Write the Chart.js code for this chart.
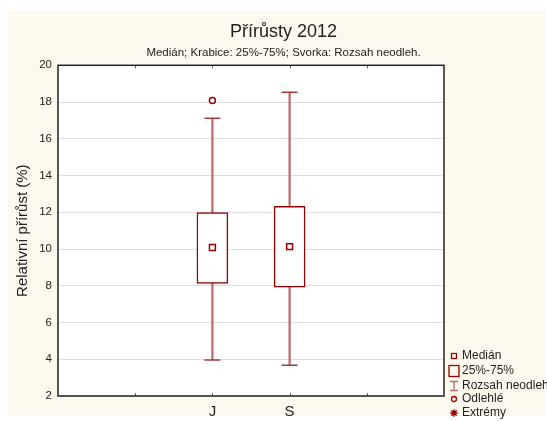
<!DOCTYPE html>
<html>
<head>
<meta charset="utf-8">
<script src="https://cdn.jsdelivr.net/npm/chart.js@4.4.0/dist/chart.umd.min.js"></script>
<style>
  html, body { margin: 0; padding: 0; background: #fff; }
</style>
</head>
<body>
<canvas id="boxChart" width="547" height="421"></canvas>
<script>
// Data
const categories = ['J', 'S'];
const catPos = [2, 3];
const whiskerLow = [3.96, 3.67];
const q1 = [8.13, 7.93];
const medians = [10.08, 10.13];
const q3 = [11.98, 12.33];
const whiskerHigh = [17.12, 18.53];
const outliers = [[18.08], []];
const yTicks = [2, 4, 6, 8, 10, 12, 14, 16, 18, 20];
const xMarks = [1, 2, 3, 4];
const legendItems = ['Medián', '25%-75%', 'Rozsah neodleh', 'Odlehlé', 'Extrémy'];

const dark = '#990000';
const stem = '#bd6b6b';
const fontFam = '"Liberation Sans", Arial, sans-serif';

// Cream backdrop, frame, inner tick marks and the legend
const decor = {
  id: 'decor',
  beforeDraw(chart) {
    const ctx = chart.ctx;
    ctx.save();
    ctx.fillStyle = '#fdf9ee';
    ctx.fillRect(8, 10, 538, 406);
    const a = chart.chartArea;
    ctx.fillStyle = '#fff';
    ctx.fillRect(a.left, a.top, a.right - a.left, a.bottom - a.top);
    ctx.restore();
  },
  afterDatasetsDraw(chart) {
    const ctx = chart.ctx;
    const a = chart.chartArea;
    const x = chart.scales.x;
    ctx.save();
    ctx.strokeStyle = '#666';
    ctx.lineWidth = 1;
    xMarks.forEach(v => {
      const px = Math.round(x.getPixelForValue(v)) + 0.5;
      ctx.beginPath();
      ctx.moveTo(px, a.top); ctx.lineTo(px, a.top + 3);
      ctx.moveTo(px, a.bottom); ctx.lineTo(px, a.bottom - 3);
      ctx.stroke();
    });
    ctx.strokeStyle = '#222';
    ctx.lineWidth = 1.5;
    ctx.strokeRect(a.left, a.top, a.right - a.left, a.bottom - a.top);

    // legend
    const lx = 454;
    const ys = [356, 371, 386, 399, 413];
    ctx.lineWidth = 1.3;
    ctx.strokeStyle = dark;
    ctx.strokeRect(lx - 2.5, ys[0] - 2.5, 5, 5);
    ctx.strokeRect(lx - 5, ys[1] - 5.5, 10, 11);
    ctx.strokeStyle = stem;
    ctx.beginPath();
    ctx.moveTo(lx, ys[2] - 4.5); ctx.lineTo(lx, ys[2] + 4.5);
    ctx.moveTo(lx - 4, ys[2] - 4.5); ctx.lineTo(lx + 4, ys[2] - 4.5);
    ctx.moveTo(lx - 4, ys[2] + 4.5); ctx.lineTo(lx + 4, ys[2] + 4.5);
    ctx.stroke();
    ctx.strokeStyle = dark;
    ctx.beginPath();
    ctx.arc(lx, ys[3], 2.5, 0, Math.PI * 2);
    ctx.stroke();
    ctx.lineWidth = 1.4;
    ctx.beginPath();
    for (let k = 0; k < 4; k++) {
      const ang = k * Math.PI / 4;
      ctx.moveTo(lx - 3.8 * Math.cos(ang), ys[4] - 3.8 * Math.sin(ang));
      ctx.lineTo(lx + 3.8 * Math.cos(ang), ys[4] + 3.8 * Math.sin(ang));
    }
    ctx.stroke();
    ctx.fillStyle = '#222';
    ctx.font = '12px ' + fontFam;
    ctx.textBaseline = 'middle';
    ctx.textAlign = 'left';
    legendItems.forEach((t, i) => ctx.fillText(t, 462, ys[i]));
    ctx.restore();
  }
};

new Chart(document.getElementById('boxChart'), {
  type: 'bar',
  data: {
    datasets: [
      {
        label: 'Rozsah',
        data: catPos.map((x, i) => ({ x: x, y: [whiskerLow[i], whiskerHigh[i]] })),
        backgroundColor: stem,
        borderWidth: 0,
        barThickness: 1.6,
        grouped: false,
        order: 4
      },
      {
        label: '25%-75%',
        data: catPos.map((x, i) => ({ x: x, y: [q1[i], q3[i]] })),
        backgroundColor: '#fff',
        borderColor: dark,
        borderWidth: 1.5,
        borderSkipped: false,
        barThickness: 31,
        grouped: false,
        order: 3
      },
      {
        type: 'scatter',
        label: 'Svorka',
        data: catPos.map((x, i) => ({ x: x, y: whiskerLow[i] }))
          .concat(catPos.map((x, i) => ({ x: x, y: whiskerHigh[i] }))),
        pointStyle: 'line',
        radius: 8,
        borderColor: '#a33a3a',
        borderWidth: 1.5,
        order: 2
      },
      {
        type: 'scatter',
        label: 'Medián',
        data: catPos.map((x, i) => ({ x: x, y: medians[i] })),
        pointStyle: 'rect',
        radius: 4.2,
        backgroundColor: '#fff',
        borderColor: dark,
        borderWidth: 1.5,
        order: 1
      },
      {
        type: 'scatter',
        label: 'Odlehlé',
        data: catPos.flatMap((x, i) => outliers[i].map(v => ({ x: x, y: v }))),
        pointStyle: 'circle',
        radius: 3,
        backgroundColor: '#fff',
        borderColor: dark,
        borderWidth: 1.5,
        order: 1
      }
    ]
  },
  options: {
    responsive: false,
    animation: false,
    layout: { padding: { left: 20, top: 10, right: 0, bottom: 0 } },
    plugins: {
      legend: { display: false },
      tooltip: { enabled: false },
      title: {
        display: true,
        text: 'Přírůsty 2012',
        color: '#222',
        font: { family: fontFam, size: 18, weight: 'normal' },
        padding: { top: 11, bottom: 0 }
      },
      subtitle: {
        display: true,
        text: 'Medián; Krabice: 25%-75%; Svorka: Rozsah neodleh.',
        color: '#222',
        font: { family: fontFam, size: 11.5 },
        padding: { top: 3.8, bottom: 5.1 }
      }
    },
    scales: {
      x: {
        type: 'linear',
        min: 0,
        max: 5,
        offset: false,
        grid: { display: false, offset: false, drawTicks: false, tickLength: 0 },
        border: { display: false },
        afterBuildTicks: s => { s.ticks = catPos.map(v => ({ value: v })); },
        afterFit: s => { s.height = 25; },
        ticks: {
          padding: 7,
          color: '#222',
          font: { family: fontFam, size: 15 },
          callback: v => categories[catPos.indexOf(v)] || ''
        }
      },
      y: {
        min: 2,
        max: 20,
        afterBuildTicks: s => { s.ticks = yTicks.map(v => ({ value: v })); },
        afterFit: s => { s.width = 38; },
        grid: { color: '#dedede', lineWidth: 1, drawTicks: false },
        border: { display: false },
        ticks: {
          padding: 6,
          color: '#222',
          font: { family: fontFam, size: 11.5 }
        },
        title: {
          display: true,
          text: 'Relativní přírůst (%)',
          color: '#222',
          font: { family: fontFam, size: 15 },
          padding: { top: -6, bottom: 0 }
        }
      },
      yRight: {
        type: 'linear',
        position: 'right',
        grid: { display: false },
        border: { display: false },
        ticks: { display: false },
        afterFit: s => { s.width = 103; }
      }
    }
  },
  plugins: [decor]
});
</script>
</body>
</html>
